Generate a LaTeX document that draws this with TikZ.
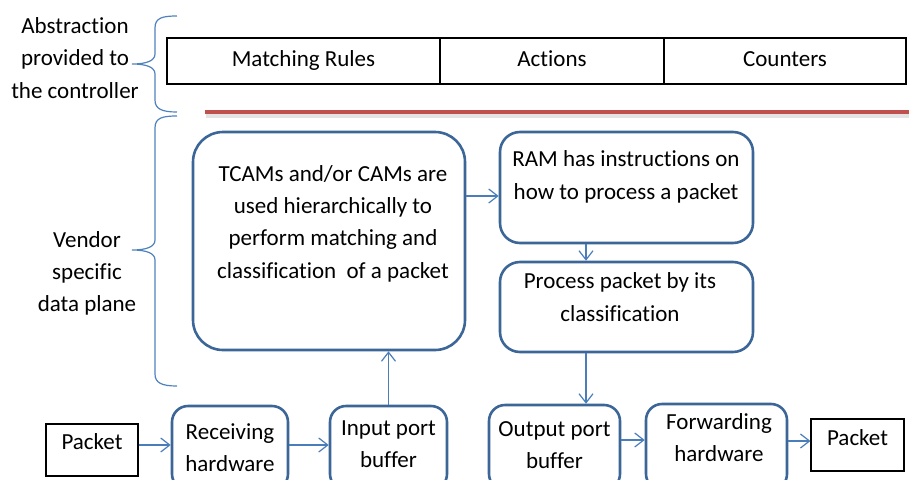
\documentclass[tikz,border=0pt]{standalone}
\usepackage{fontspec}
\setmainfont{Carlito}[Ligatures=CommonOff]
\usetikzlibrary{arrows.meta}
\definecolor{boxc}{HTML}{3C6697}
\definecolor{arrc}{HTML}{4A7EBB}
\definecolor{bracec}{HTML}{4F81BD}
\definecolor{redc}{HTML}{C0504D}
\begin{document}
\begin{tikzpicture}[x=1pt,y=-1pt,
  box/.style={draw=boxc,line width=2.6pt,rounded corners=#1,inner sep=0pt},
  box/.default=16pt,
  plain/.style={draw=black,line width=1.1pt,inner sep=0pt},
  txt/.style={font=\fontsize{23}{32.3}\selectfont,align=center,inner sep=0pt},
  onel/.style={txt,text height=16pt,text depth=5pt},
  arr/.style={draw=arrc,line width=1.2pt,-{Straight Barb[length=9pt,width=14pt,line width=1.2pt]}},
  bracel/.style={draw=bracec,line width=1.2pt}]
\useasboundingbox (0,0) rectangle (909,479);
\clip (0,0) rectangle (909,479);

% top table
\node[plain,minimum width=273pt,minimum height=46pt,onel] (c1) at (303.5,61) {Matching Rules};
\node[plain,minimum width=224pt,minimum height=46pt,onel] (c2) at (552,61) {Actions};
\node[plain,minimum width=242pt,minimum height=46pt,onel] (c3) at (785,61) {Counters};

% red line with shadow
\draw[line width=4pt,gray,opacity=0.22] (206,115.5) -- (912,115.5);
\draw[line width=3.5pt,redc] (205,112) -- (912,112);

% braces
\draw[bracel] (177,16) .. controls (162,16) and (155,18) .. (155,28) -- (155,54)
  .. controls (155,61) and (146,64) .. (132,64) .. controls (146,64) and (155,67) .. (155,74)
  -- (155,100) .. controls (155,109) and (162,112) .. (177,112);
\draw[bracel] (177,116) .. controls (162,116) and (155,118) .. (155,128) -- (155,240)
  .. controls (155,247) and (146,250) .. (132,250) .. controls (146,250) and (155,253) .. (155,260)
  -- (155,374) .. controls (155,383) and (162,386) .. (177,386);

\node[txt] (abs) at (75,58) {Abstraction\\provided to\\the controller};
\node[txt] (vend) at (87,273.5) {Vendor\\specific\\data plane};

% data plane boxes
\node[box=30pt,minimum width=272pt,minimum height=218pt] (tcam) at (329,241) {};
\node[txt] (tcamt) at (333,223.5) {TCAMs and/or CAMs are\\used hierarchically to\\perform matching and\\classification\ \ of a packet};
\node[box=20pt,minimum width=253pt,minimum height=111pt] (ram) at (626.5,187.5) {};
\node[txt] (ramt) at (626,177) {RAM has instructions on\\how to process a packet};
\node[box=20pt,minimum width=253pt,minimum height=90pt] (proc) at (626.5,307) {};
\node[txt] (proct) at (620,297) {Process packet by its\\classification};

% bottom row
\node[plain,minimum width=92pt,minimum height=52pt] (pktL) at (92,450) {};
\node[onel] (pktLt) at (92,444) {Packet};
\node[box,minimum width=116pt,minimum height=84pt,txt] (recv) at (230,448) {Receiving\\hardware};
\node[box,minimum width=117pt,minimum height=84pt] (inp) at (388.5,448) {};
\node[txt] (inpt) at (388.5,444.5) {Input port\\buffer};
\node[box,minimum width=131pt,minimum height=85pt] (outp) at (554.5,447.5) {};
\node[txt] (outpt) at (554.5,445) {Output port\\buffer};
\node[box,minimum width=141pt,minimum height=86pt] (fwd) at (716.5,447) {};
\node[txt] (fwdt) at (719,437.5) {Forwarding\\hardware};
\node[plain,minimum width=93pt,minimum height=52pt] (pktR) at (857.5,445) {};
\node[onel] (pktRt) at (857.5,440) {Packet};

% connectors
\draw[arr] ([yshift=5pt]pktL.east) -- ([yshift=3pt]recv.west);
\draw[arr] ([yshift=3pt]recv.east) -- ([yshift=3pt]inp.west);
\draw[arr] (inp.north) -- (inp.north |- tcam.south);
\draw[arr] ([yshift=45pt]tcam.east) -- ([yshift=-8.5pt]ram.west);
\draw[arr] ([xshift=-40.5pt]ram.south) -- ([xshift=-40.5pt]proc.north);
\draw[arr] ([xshift=-40.5pt]proc.south) -- ([xshift=31.5pt]outp.north);
\draw[arr] ([yshift=7.5pt]outp.east) -- ([yshift=7pt]fwd.west);
\draw[arr] ([yshift=6pt]fwd.east) -- ([yshift=4pt]pktR.west);
\end{tikzpicture}
\end{document}
